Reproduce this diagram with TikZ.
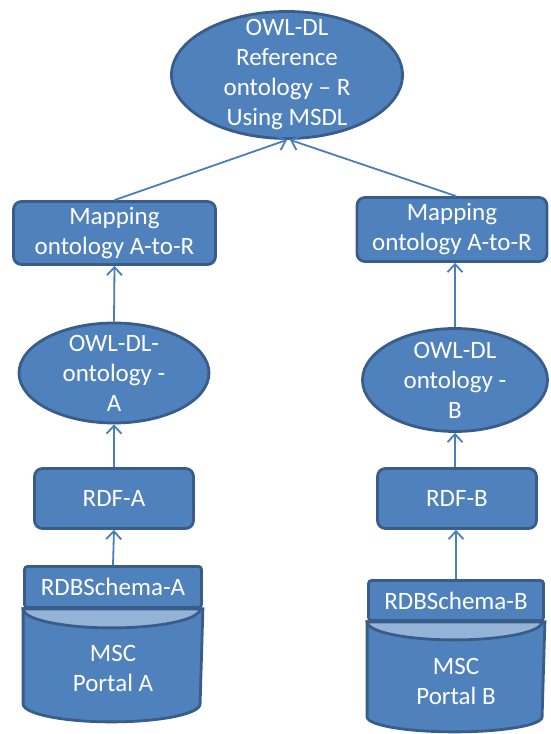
\documentclass[tikz,border=0pt]{standalone}
\usepackage{fontspec}
\setmainfont{Carlito}
\usetikzlibrary{arrows.meta, positioning, shapes.geometric, backgrounds}
\definecolor{boxblue}{HTML}{4F81BD}
\definecolor{edgeblue}{HTML}{385D8A}
\definecolor{lightblue}{HTML}{95B3D7}
\definecolor{arrowblue}{HTML}{4A7EBB}
\tikzstyle{txt} = [text=white, align=center, font=\fontsize{25}{30}\selectfont]
\tikzstyle{box} = [rectangle, rounded corners=8pt,
draw=edgeblue, line width=2.8pt,
fill=boxblue, inner sep=0pt, txt]
\tikzstyle{ell} = [ellipse, draw=edgeblue, line width=2.8pt, fill=boxblue, inner sep=0pt]
\tikzstyle{dbhead} = [rectangle, rounded corners=3pt, draw=edgeblue, line width=2.8pt,
fill=boxblue, inner sep=0pt, txt]
\tikzstyle{dbbody} = [draw=edgeblue, line width=2.8pt, fill=boxblue]
\tikzstyle{arrow} = [-{Straight Barb[length=8pt,width=15pt]}, line width=1.8pt, draw=arrowblue]

\begin{document}
\begin{tikzpicture}[x=1pt, y=1pt]
				
				% canvas of the reference (550 x 734)
				\useasboundingbox (0,0) rectangle (550,734);
				
				\node[ell, minimum width=231pt, minimum height=127pt,
				label={[txt]center:{OWL-DL\\Reference\\ontology -- R\\Using MSDL}}] (ref) at (287,659) {};
				
				\node[box, minimum width=202pt, minimum height=63pt] (mapA) at (114.5,501) {Mapping\\ontology A-to-R};
				\node[box, minimum width=190pt, minimum height=64pt] (mapB) at (452,504.5) {Mapping\\ontology A-to-R};
				
				\node[ell, minimum width=190pt, minimum height=100pt,
				label={[txt]center:{OWL-DL-\\ontology -\\A}}] (owlA) at (114,361) {};
				\node[ell, minimum width=185pt, minimum height=103pt,
				label={[txt]center:{OWL-DL\\ontology -\\B}}] (owlB) at (455,354) {};
				
				\node[box, minimum width=159pt, minimum height=60pt] (rdfA) at (114,235.5) {RDF-A};
				\node[box, minimum width=159pt, minimum height=60pt] (rdfB) at (457,235.5) {RDF-B};
				
				% databases
				\node[dbhead, minimum width=177pt, minimum height=41pt] (dbA) at (113,147) {RDBSchema-A};
				\node[dbhead, minimum width=175pt, minimum height=40pt] (dbB) at (456,133.5) {RDBSchema-B};
				\begin{scope}[on background layer]
					\draw[dbbody] (dbA.south west) -- ++(0,-95)
					arc[start angle=180, end angle=360, x radius=88.5, y radius=18] -- (dbA.south east) -- cycle;
					\draw[dbbody, fill=lightblue] (dbA.south west)
					arc[start angle=180, end angle=360, x radius=88.5, y radius=19] -- cycle;
					\draw[dbbody] (dbB.south west) -- ++(0,-95)
					arc[start angle=180, end angle=360, x radius=87.5, y radius=15] -- (dbB.south east) -- cycle;
					\draw[dbbody, fill=lightblue] (dbB.south west)
					arc[start angle=180, end angle=360, x radius=87.5, y radius=18] -- cycle;
				\end{scope}
				\node[txt] (mscA) at (113,66) {MSC\\Portal A};
				\node[txt] (mscB) at (456,53) {MSC\\Portal B};
				
				% Edges
				\draw[arrow] (mapA.north) -- (ref.south);
				\draw[arrow] ([xshift=4pt]mapB.north) -- ([xshift=3pt]ref.south);
				\draw[arrow] (owlA.north) -- (mapA.south);
				\draw[arrow] (owlB.north) -- (owlB.north |- mapB.south);
				\draw[arrow] (rdfA.north) -- (owlA.south);
				\draw[arrow] (rdfB.north -| owlB.south) -- (owlB.south);
				\draw[arrow] (dbA.north) -- (rdfA.south);
				\draw[arrow] (dbB.north) -- (dbB.north |- rdfB.south);
				
			\end{tikzpicture}
\end{document}
